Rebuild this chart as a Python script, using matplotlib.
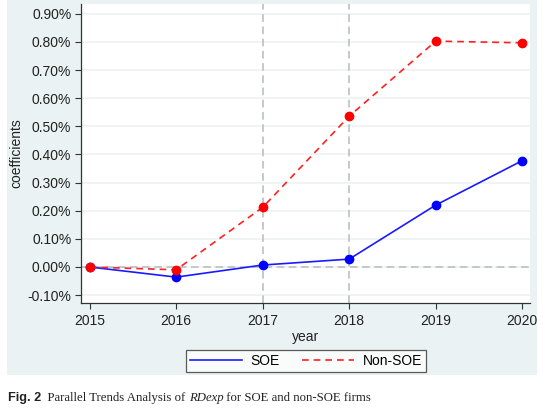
import matplotlib
matplotlib.use('Agg')
from matplotlib import pyplot as plt
from matplotlib.patches import Rectangle
from matplotlib.lines import Line2D
from matplotlib.ticker import FuncFormatter

years = [2015, 2016, 2017, 2018, 2019, 2020]
soe = [0.000, -0.036, 0.007, 0.028, 0.220, 0.378]
non_soe = [0.000, -0.010, 0.212, 0.536, 0.803, 0.797]
y_ticks = [-0.1, 0.0, 0.1, 0.2, 0.3, 0.4, 0.5, 0.6, 0.7, 0.8, 0.9]
event_years = [2017, 2018]

plt.rcParams['font.family'] = ['Liberation Sans', 'DejaVu Sans']

fig = plt.figure(figsize=(5.53, 4.09), dpi=100)
W, H = 553, 409

# stata-like outer background
fig.patches.append(Rectangle((7 / W, 1 - 375 / H), 530 / W, 375 / H,
                             transform=fig.transFigure, facecolor='#eaf2f3',
                             edgecolor='none', zorder=-5))

ax = fig.add_axes([81 / W, 1 - 303 / H, 449 / W, 299 / H])
ax.set_zorder(2)
ax.set_facecolor('white')

for v in y_ticks:
    ax.axhline(v, color='#eef2f3', lw=1.2, zorder=1)
ax.axhline(0, color='#b4bcbc', lw=1.1, ls=(0, (5, 3)), zorder=2)
for yr in event_years:
    ax.axvline(yr, color='#b4bcbc', lw=1.1, ls=(0, (5, 3)), zorder=2)

ax.plot(years, soe, color='#1a1aff', lw=1.2, marker='o', ms=6,
        markerfacecolor='#0000ff', markeredgecolor='#0000ff', zorder=4)
ax.plot(years, non_soe, color='#ff2020', lw=1.2, ls=(0, (4, 3)), marker='o', ms=6,
        markerfacecolor='#ff0000', markeredgecolor='#ff0000', zorder=4)

ax.set_xlim(2014.9, 2020.09)
ax.set_ylim(-0.128, 0.935)
ax.set_xticks(years)
ax.set_yticks(y_ticks)
ax.yaxis.set_major_formatter(FuncFormatter(lambda v, p: '%.2f%%' % v))

for s in ['top', 'right']:
    ax.spines[s].set_visible(False)
for s in ['left', 'bottom']:
    ax.spines[s].set_color('#333333')
    ax.spines[s].set_linewidth(0.9)
ax.tick_params(axis='both', labelsize=10, color='#333333', length=4, width=0.8,
               labelcolor='#222222')
ax.tick_params(axis='y', pad=3)
ax.tick_params(axis='x', pad=4)

ax.set_xlabel('year', fontsize=10, labelpad=1, color='#222222')
ax.set_ylabel('coefficients', fontsize=10, labelpad=3, color='#222222')

handles = [Line2D([], [], color='#1a1aff', lw=1.2),
           Line2D([], [], color='#ff2020', lw=1.2, ls=(0, (4, 3)))]
leg = fig.legend(handles, ['SOE', 'Non-SOE'], loc='center',
                 bbox_to_anchor=(306 / W, 1 - 361 / H), ncol=2,
                 fontsize=10, frameon=True, fancybox=False, edgecolor='#333333',
                 handlelength=3.75, handletextpad=0.6, columnspacing=1.6,
                 borderpad=0.3, borderaxespad=0)
leg.get_frame().set_linewidth(0.9)
leg.set_zorder(5)

# caption, pieces placed one after another
fig.canvas.draw()
r = fig.canvas.get_renderer()
x = 8
pieces = [('Fig. 2', dict(fontweight='bold', family='Liberation Sans')),
          ('  Parallel Trends Analysis of ', dict(family='Liberation Serif')),
          ('RDexp', dict(style='italic', family='Liberation Serif')),
          (' for SOE and non-SOE firms', dict(family='Liberation Serif'))]
for txt, kw in pieces:
    t = fig.text(x / W, 1 - 398 / H, txt, fontsize=9.2, va='center',
                 color='#222222', **kw)
    x += t.get_window_extent(renderer=r).width

fig.savefig('out.png', dpi=100)
